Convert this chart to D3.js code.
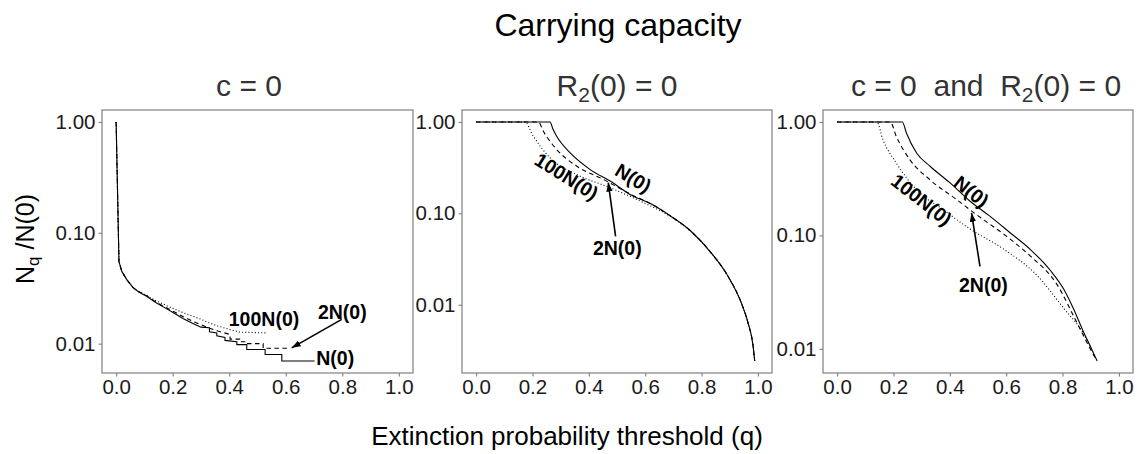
<!DOCTYPE html>
<html>
<head>
<meta charset="utf-8">
<script src="https://cdn.jsdelivr.net/npm/d3@7"></script>
<style>
  html, body { margin: 0; padding: 0; background: #fff; }
  text { font-family: "Liberation Sans", Arial, sans-serif; white-space: pre; }
</style>
</head>
<body>
<svg id="chart" width="1137" height="454"></svg>
<script>
// ---------------- DATA ----------------
const xTicks = [0, 0.2, 0.4, 0.6, 0.8, 1.0];
const xTickLabels = ["0.0", "0.2", "0.4", "0.6", "0.8", "1.0"];
const yTicks = [1, 0.1, 0.01];
const yTickLabels = ["1.00", "0.10", "0.01"];
const seriesNames = ["N(0)", "2N(0)", "100N(0)"];
const panelTitles = ["c = 0", "R2(0) = 0", "c = 0  and  R2(0) = 0"];

// Panel 1: c = 0   [q, Nq/N(0)]
const p1_N0 = [[0,1],[0.01,0.055],[0.02,0.045],[0.037,0.038],[0.06,0.032],[0.08,0.0293],[0.108,0.0268],[0.14,0.0235],[0.179,0.0206],[0.21,0.0185],[0.238,0.0168],[0.27,0.0153],[0.3,0.0141],[0.33,0.0139],[0.33,0.0128],[0.356,0.0125],[0.356,0.0118],[0.385,0.0114],[0.385,0.0107],[0.427,0.0104],[0.427,0.0098],[0.462,0.0098],[0.462,0.00885],[0.527,0.00885],[0.527,0.00798],[0.586,0.00798],[0.586,0.00697],[0.702,0.00697]];
const p1_2N0 = [[0,1],[0.01,0.055],[0.02,0.045],[0.037,0.038],[0.06,0.032],[0.08,0.0295],[0.108,0.027],[0.14,0.0238],[0.179,0.021],[0.21,0.0191],[0.238,0.0175],[0.27,0.016],[0.3,0.0148],[0.33,0.0138],[0.36,0.013],[0.403,0.0121],[0.403,0.011],[0.437,0.011],[0.437,0.0104],[0.462,0.0104],[0.462,0.01],[0.52,0.01],[0.52,0.0091],[0.617,0.0091]];
const p1_100N0 = [[0,1],[0.01,0.055],[0.02,0.045],[0.037,0.038],[0.06,0.032],[0.08,0.0295],[0.108,0.0272],[0.14,0.0245],[0.179,0.022],[0.21,0.0203],[0.238,0.019],[0.27,0.0177],[0.3,0.0166],[0.33,0.0154],[0.356,0.0145],[0.39,0.0137],[0.437,0.0127],[0.532,0.0125]];

// Panel 2: R2(0) = 0
const p2_N0 = [[0,1],[0.2625,1],[0.273,0.83],[0.286,0.697],[0.334,0.458],[0.405,0.301],[0.477,0.224],[0.548,0.160],[0.62,0.127],[0.691,0.093],[0.7625,0.0637],[0.834,0.037],[0.8935,0.0206],[0.941,0.0105],[0.965,0.00635],[0.983,0.00353],[0.9886,0.00242]];
const p2_2N0 = [[0,1],[0.221,1],[0.2386,0.79],[0.286,0.50],[0.358,0.327],[0.453,0.234],[0.548,0.162],[0.62,0.127],[0.691,0.093],[0.7625,0.0637],[0.834,0.037],[0.8935,0.0206],[0.941,0.0105],[0.965,0.0063],[0.983,0.0035],[0.9886,0.00242]];
const p2_100N0 = [[0,1],[0.173,1],[0.203,0.70],[0.2625,0.404],[0.358,0.265],[0.477,0.19],[0.596,0.13],[0.691,0.092],[0.7625,0.063],[0.834,0.037],[0.8935,0.0205],[0.941,0.0104],[0.965,0.0063],[0.983,0.0035],[0.9886,0.00242]];

// Panel 3: c = 0 and R2(0) = 0
const p3_N0 = [[0,1],[0.2316,1],[0.246,0.80],[0.282,0.533],[0.33,0.407],[0.401,0.29],[0.472,0.2],[0.543,0.147],[0.615,0.105],[0.686,0.075],[0.757,0.049],[0.805,0.0333],[0.84,0.0222],[0.876,0.0138],[0.899,0.0105],[0.923,0.0078]];
const p3_2N0 = [[0,1],[0.189,1],[0.21,0.747],[0.258,0.466],[0.329,0.31],[0.424,0.207],[0.495,0.152],[0.59,0.103],[0.685,0.066],[0.78,0.037],[0.852,0.0168],[0.9,0.0098],[0.915,0.0084]];
const p3_100N0 = [[0,1],[0.141,1],[0.1625,0.70],[0.21,0.435],[0.2815,0.253],[0.376,0.169],[0.4715,0.114],[0.59,0.076],[0.709,0.0445],[0.804,0.0228],[0.875,0.0135],[0.905,0.0096]];

// Annotations: [label, q, value, rotation]
const p1_labels = [["100N(0)",0.523,0.01655,0],["2N(0)",0.80,0.0195,0],["N(0)",0.775,0.0075,0]];
const p2_labels = [["N(0)",0.558,0.244,31],["100N(0)",0.321,0.254,32],["2N(0)",0.501,0.0418,0]];
const p3_labels = [["N(0)",0.477,0.244,38],["100N(0)",0.30,0.2065,38],["2N(0)",0.519,0.0367,0]];
// Arrows: [q_from, v_from, q_to, v_to]
const p1_arrow = [0.798,0.01655,0.621,0.00917];
const p2_arrow = [0.495,0.056,0.469,0.217];
const p3_arrow = [0.507,0.0533,0.477,0.158];

// ---------------- LAYOUT ----------------
const svg = d3.select("#chart");
const frames = [{x0:102,x1:413},{x0:462,x1:772},{x0:823,x1:1133}];
const titleX = [249, 617, 986];
const yTop = 110, yBottom = 373;
const dashStyles = [null, "4.5,3.5", "1,2.2"];

const panels = [
  {series:[p1_N0,p1_2N0,p1_100N0], labels:p1_labels, arrow:p1_arrow, curve:d3.curveLinear},
  {series:[p2_N0,p2_2N0,p2_100N0], labels:p2_labels, arrow:p2_arrow, curve:d3.curveMonotoneX},
  {series:[p3_N0,p3_2N0,p3_100N0], labels:p3_labels, arrow:p3_arrow, curve:d3.curveMonotoneX}
];

svg.append("defs").append("marker")
  .attr("id","arrowhead").attr("viewBox","0 0 10 10")
  .attr("refX",10).attr("refY",5)
  .attr("markerWidth",9).attr("markerHeight",9)
  .attr("markerUnits","userSpaceOnUse")
  .attr("orient","auto")
  .append("path").attr("d","M0,1.5 L10,5 L0,8.5 Z").attr("fill","#000");

function addTitle(sel, str, size) {
  const parts = str.split("R2");
  parts.forEach((p, i) => {
    if (i > 0) {
      sel.append("tspan").text("R");
      sel.append("tspan").attr("font-size", size*0.7).attr("dy", size*0.2).text("2");
      sel.append("tspan").attr("dy", -size*0.2).text(p);
    } else if (p.length) {
      sel.append("tspan").text(p);
    }
  });
}

panels.forEach((P, i) => {
  const f = frames[i];
  const x = d3.scaleLinear().domain([-0.05, 1.05]).range([f.x0, f.x1]);
  const allV = P.series.flat().map(d => d[1]);
  const lmin = Math.log10(d3.min(allV)), lmax = Math.log10(d3.max(allV));
  const pad = 0.05 * (lmax - lmin);
  const y = d3.scaleLog().domain([Math.pow(10, lmin - pad), Math.pow(10, lmax + pad)]).range([yBottom, yTop]);

  const g = svg.append("g");

  g.append("rect").attr("x", f.x0).attr("y", yTop)
    .attr("width", f.x1 - f.x0).attr("height", yBottom - yTop)
    .attr("fill", "none").attr("stroke", "#7f7f7f").attr("stroke-width", 1.2);

  const xAxis = d3.axisBottom(x).tickValues(xTicks).tickFormat((d, j) => xTickLabels[j]).tickSize(3.5).tickPadding(3);
  const gx = g.append("g").attr("transform", `translate(0,${yBottom})`).call(xAxis);
  const yAxis = d3.axisLeft(y).tickValues(yTicks).tickFormat((d, j) => yTickLabels[j]).tickSize(3.5).tickPadding(3);
  const gy = g.append("g").attr("transform", `translate(${f.x0},0)`).call(yAxis);
  [gx, gy].forEach(a => {
    a.select(".domain").remove();
    a.selectAll(".tick line").attr("stroke", "#7f7f7f").attr("stroke-width", 1.1);
    a.selectAll(".tick text").attr("font-size", 20.5).attr("fill", "#1a1a1a")
      .attr("font-family", '"Liberation Sans", Arial, sans-serif');
  });

  const line = d3.line().curve(P.curve).x(d => x(d[0])).y(d => y(d[1]));
  P.series.forEach((s, k) => {
    g.append("path").datum(s).attr("d", line)
      .attr("fill", "none").attr("stroke", "#000")
      .attr("stroke-width", 1.1)
      .attr("stroke-dasharray", dashStyles[k]);
  });

  P.labels.forEach(L => {
    const px = x(L[1]), py = y(L[2]);
    g.append("text").attr("x", px).attr("y", py)
      .attr("text-anchor", "middle").attr("dominant-baseline", "central")
      .attr("font-weight", "bold").attr("font-size", 19.5).attr("fill", "#000")
      .attr("transform", L[3] ? `rotate(${L[3]},${px},${py})` : null)
      .text(L[0]);
  });

  const A = P.arrow;
  g.append("line")
    .attr("x1", x(A[0])).attr("y1", y(A[1]))
    .attr("x2", x(A[2])).attr("y2", y(A[3]))
    .attr("stroke", "#000").attr("stroke-width", 1.6)
    .attr("marker-end", "url(#arrowhead)");

  const t = svg.append("text").attr("x", titleX[i]).attr("y", 96)
    .attr("text-anchor", "middle").attr("font-size", 30).attr("fill", "#333");
  addTitle(t, panelTitles[i], 30);
});

svg.append("text").attr("x", 618).attr("y", 36).attr("text-anchor", "middle")
  .attr("font-size", 32).attr("fill", "#000").text("Carrying capacity");

svg.append("text").attr("x", 567).attr("y", 445).attr("text-anchor", "middle")
  .attr("font-size", 26).attr("fill", "#000").text("Extinction probability threshold (q)");

const yt = svg.append("text").attr("transform", "translate(34,239) rotate(-90)")
  .attr("text-anchor", "middle").attr("font-size", 25).attr("fill", "#000");
yt.append("tspan").text("N");
yt.append("tspan").attr("font-size", 17).attr("dy", 5).text("q");
yt.append("tspan").attr("dy", -5).text(" /N(0)");
</script>
</body>
</html>
